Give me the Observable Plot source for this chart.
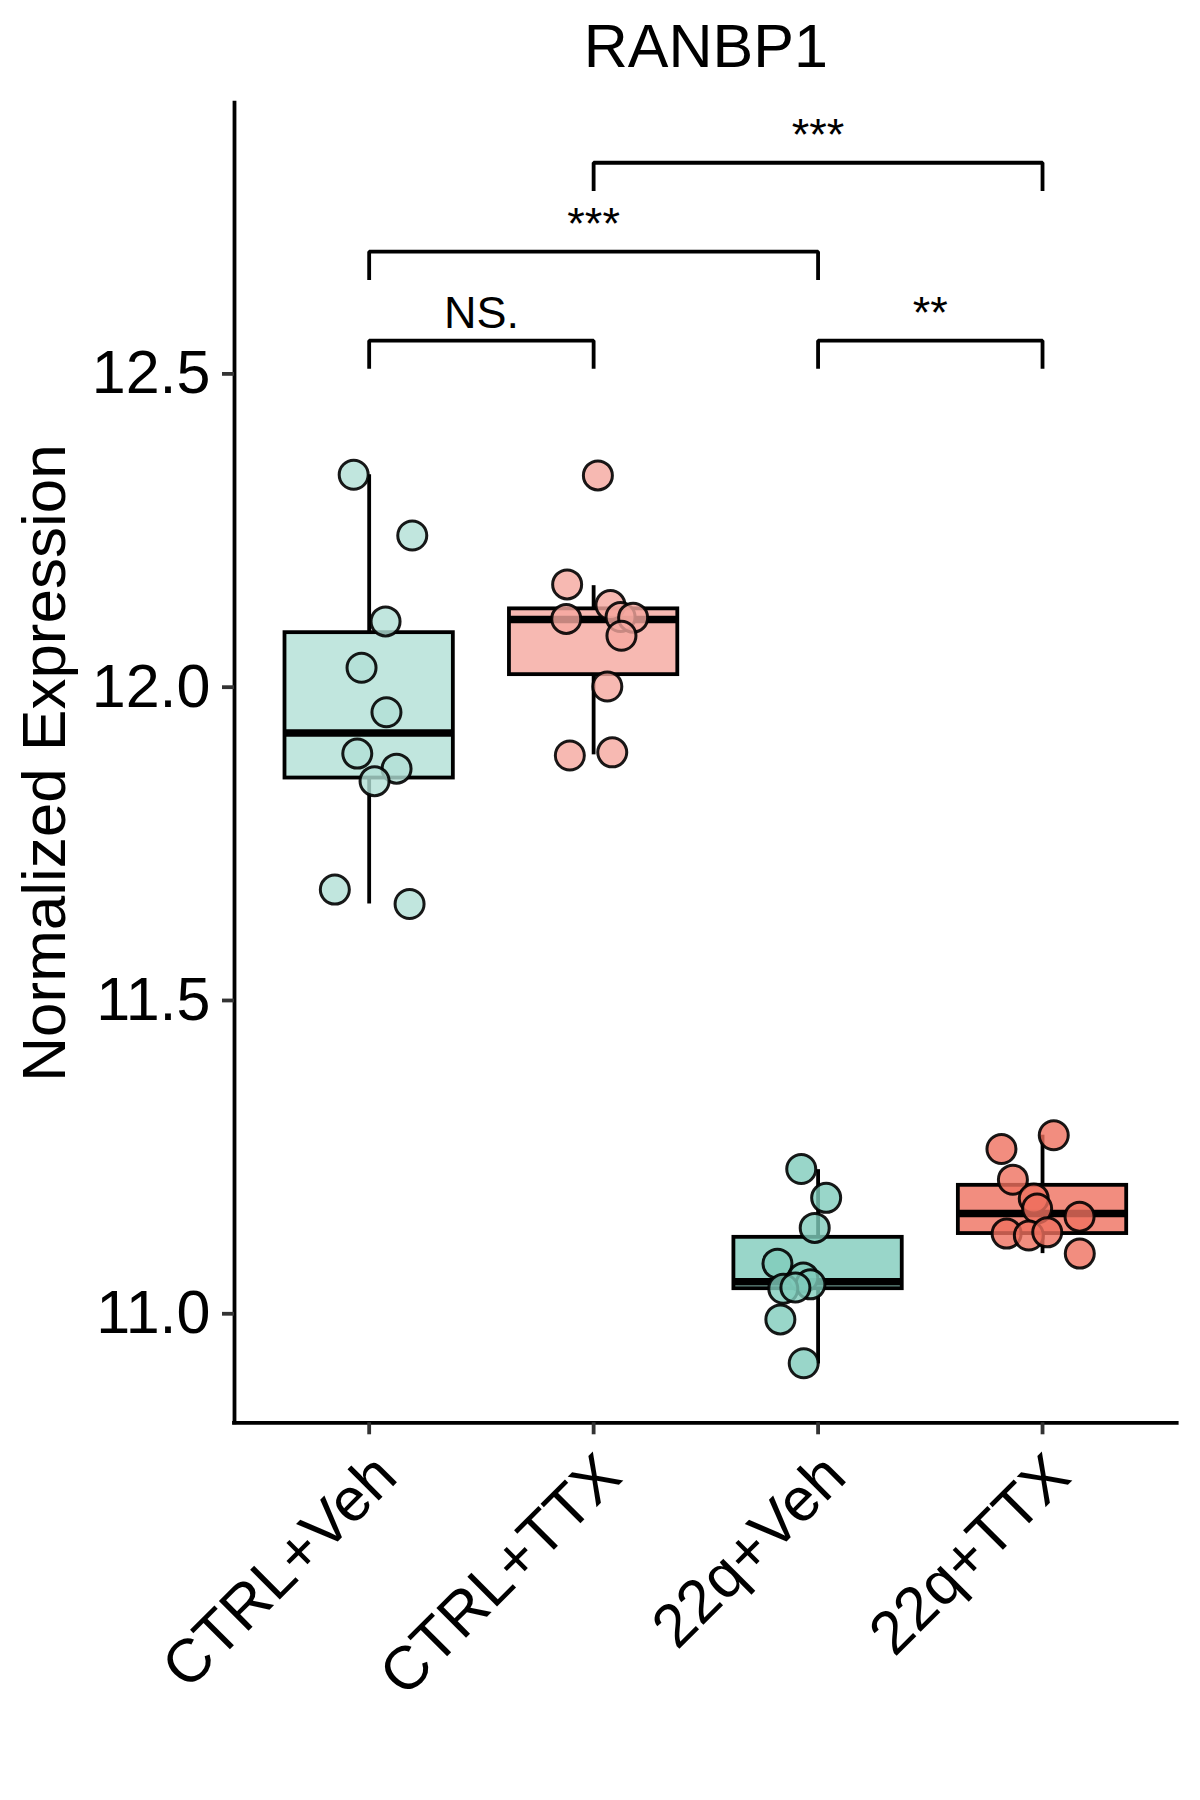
<!DOCTYPE html>
<html>
<head>
<meta charset="utf-8">
<script src="https://cdn.jsdelivr.net/npm/d3@7"></script>
<script src="https://cdn.jsdelivr.net/npm/@observablehq/plot@0.6"></script>
<style>
  html, body { margin: 0; padding: 0; background: #ffffff; }
  #chart svg { display: block; }
</style>
</head>
<body>
<div id="chart"></div>
<script>
// ---------- data ----------
const groups = ["CTRL+Veh", "CTRL+TTX", "22q+Veh", "22q+TTX"];
const yTicks = [11.0, 11.5, 12.0, 12.5];
const title = "RANBP1";
const yLabel = "Normalized Expression";

const ctrlVehValues = [12.339, 12.242, 12.105, 12.031, 11.960, 11.894, 11.870, 11.850, 11.677, 11.654];
const ctrlVehJitter = [-0.069, 0.192, 0.073, -0.034, 0.077, -0.053, 0.122, 0.024, -0.153, 0.180];
const ctrlTtxValues = [12.338, 12.164, 12.131, 12.112, 12.109, 12.111, 12.082, 12.001, 11.891, 11.896];
const ctrlTtxJitter = [0.019, -0.118, 0.075, 0.120, -0.122, 0.176, 0.124, 0.061, -0.106, 0.083];
const q22VehValues = [11.231, 11.185, 11.137, 11.080, 11.058, 11.047, 11.040, 11.042, 10.991, 10.921];
const q22VehJitter = [-0.075, 0.036, -0.015, -0.181, -0.066, -0.034, -0.155, -0.101, -0.168, -0.064];
const q22TtxValues = [11.285, 11.263, 11.214, 11.184, 11.168, 11.155, 11.128, 11.125, 11.130, 11.096];
const q22TtxJitter = [0.050, -0.183, -0.132, -0.039, -0.024, 0.165, -0.160, -0.061, 0.021, 0.166];

const boxLow    = [11.654, 11.892, 10.920, 11.096];
const boxQ1     = [11.855, 12.020, 11.040, 11.128];
const boxMedian = [11.927, 12.108, 11.051, 11.160];
const boxQ3     = [12.087, 12.125, 11.122, 11.205];
const boxHigh   = [12.339, 12.162, 11.230, 11.285];

const bracketFrom  = ["CTRL+Veh", "CTRL+Veh", "22q+Veh", "CTRL+TTX"];
const bracketTo    = ["CTRL+TTX", "22q+Veh", "22q+TTX", "22q+TTX"];
const bracketY     = [12.553, 12.695, 12.553, 12.837];
const bracketLabel = ["NS.", "***", "**", "***"];
const bracketTip   = 0.045;

// ---------- styles ----------
const boxFill   = ["#C1E6DE", "#F7B9B2", "#99D6C9", "#F28D7F"];
const pointFill = ["#B2E0D6", "#F5A89F", "#80CCBC", "#EF705F"];
const FONT = "'Liberation Sans', Arial, Helvetica, sans-serif";
const LW = 3.8;
const boxHalf = 0.375;

// ---------- derived tables ----------
const valueSets = [ctrlVehValues, ctrlTtxValues, q22VehValues, q22TtxValues];
const jitterSets = [ctrlVehJitter, ctrlTtxJitter, q22VehJitter, q22TtxJitter];
const pos = g => groups.indexOf(g) + 1;

const boxes = groups.map((g, i) => ({
  i, x: i + 1, lo: boxLow[i], q1: boxQ1[i], med: boxMedian[i], q3: boxQ3[i], hi: boxHigh[i]
}));

const points = groups.flatMap((g, i) =>
  valueSets[i].map((v, j) => ({ i, x: i + 1 + jitterSets[i][j], y: v }))
);

const brackets = bracketLabel.map((lab, k) => ({
  k, x1: pos(bracketFrom[k]), x2: pos(bracketTo[k]), y: bracketY[k], label: lab
}));
const bracketPath = brackets.flatMap(b => [
  { k: b.k, x: b.x1, y: b.y - bracketTip },
  { k: b.k, x: b.x1, y: b.y },
  { k: b.k, x: b.x2, y: b.y },
  { k: b.k, x: b.x2, y: b.y - bracketTip }
]);

const xDomain = [0.4, 4.6];
const yDomain = [10.826, 12.932];

const marks = [];
// whiskers
marks.push(Plot.ruleX(boxes, { x: "x", y1: "q3", y2: "hi", stroke: "black", strokeWidth: LW }));
marks.push(Plot.ruleX(boxes, { x: "x", y1: "lo", y2: "q1", stroke: "black", strokeWidth: LW }));
// boxes
groups.forEach((g, i) => {
  const b = boxes.filter(d => d.i === i);
  marks.push(Plot.rect(b, {
    x1: d => d.x - boxHalf, x2: d => d.x + boxHalf, y1: "q1", y2: "q3",
    fill: boxFill[i], stroke: "black", strokeWidth: LW
  }));
  marks.push(Plot.ruleY(b, {
    y: "med", x1: d => d.x - boxHalf, x2: d => d.x + boxHalf,
    stroke: "black", strokeWidth: 7.5, strokeLinecap: "butt"
  }));
});
// points
groups.forEach((g, i) => {
  marks.push(Plot.dot(points.filter(d => d.i === i), {
    x: "x", y: "y", r: 14.5, fill: pointFill[i], fillOpacity: 0.8,
    stroke: "black", strokeOpacity: 0.9, strokeWidth: 3
  }));
});
// significance brackets
marks.push(Plot.line(bracketPath, {
  x: "x", y: "y", z: "k", stroke: "black", strokeWidth: LW,
  strokeLinejoin: "miter", strokeLinecap: "butt", curve: "linear"
}));
marks.push(Plot.text(brackets, {
  x: d => (d.x1 + d.x2) / 2, y: "y", text: "label",
  lineAnchor: "bottom", dy: -13, fontSize: 45, fill: "black"
}));
// axis lines
marks.push(Plot.ruleX([xDomain[0]], { stroke: "black", strokeWidth: LW, strokeLinecap: "square" }));
marks.push(Plot.ruleY([yDomain[0]], { stroke: "black", strokeWidth: LW, strokeLinecap: "square" }));
// axes
marks.push(Plot.axisY({
  ticks: yTicks, tickFormat: d3.format(".1f"), tickSize: 12, tickPadding: 12,
  stroke: "#333333", strokeWidth: LW, fill: "black", fontSize: 61, label: null
}));
marks.push(Plot.axisX({
  ticks: [1, 2, 3, 4], tickFormat: d => groups[d - 1], tickSize: 12, tickPadding: 14,
  tickRotate: -45, textAnchor: "end", lineAnchor: "top",
  stroke: "#333333", strokeWidth: LW, fill: "black", fontSize: 61, label: null
}));
// title and y label
marks.push(Plot.text([title], {
  frameAnchor: "top", lineAnchor: "bottom", dy: -36, fontSize: 61, fill: "black"
}));
marks.push(Plot.text([yLabel], {
  frameAnchor: "left", rotate: -90, lineAnchor: "bottom", dx: -170,
  fontSize: 62, fill: "black", textAnchor: "middle"
}));

const chart = Plot.plot({
  width: 1200,
  height: 1800,
  marginLeft: 234,
  marginRight: 23.3,
  marginTop: 102.7,
  marginBottom: 377.7,
  x: { domain: xDomain },
  y: { domain: yDomain },
  style: { fontFamily: FONT, background: "#ffffff", color: "black" },
  marks
});
document.getElementById("chart").appendChild(chart);
</script>
</body>
</html>
